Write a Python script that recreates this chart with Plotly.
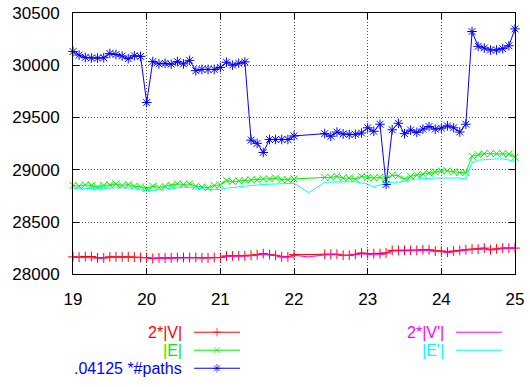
import plotly.graph_objects as go

# ---- data -------------------------------------------------------------
# sample positions shared by 2*|V|, |E| and the path count
x_main = [19.0, 19.083, 19.167, 19.25, 19.333, 19.417, 19.5, 19.583, 19.667, 19.75, 19.833, 19.917,
          20.0, 20.083, 20.167, 20.25, 20.333, 20.417, 20.5, 20.583, 20.667, 20.75, 20.833, 20.917,
          21.0, 21.083, 21.167, 21.25, 21.333, 21.417, 21.5, 21.583, 21.667, 21.75, 21.833, 21.917,
          22.0, 22.417, 22.5, 22.583, 22.667, 22.75, 22.833, 22.917,
          23.0, 23.083, 23.167, 23.25, 23.333, 23.417, 23.5, 23.583, 23.667, 23.75, 23.833, 23.917,
          24.0, 24.083, 24.167, 24.25, 24.333, 24.417, 24.5, 24.583, 24.667, 24.75, 24.833, 24.917,
          25.0]

two_v = [28167, 28164, 28170, 28170, 28157, 28157, 28167, 28167, 28167, 28167, 28164, 28161,
         28161, 28151, 28157, 28157, 28157, 28161, 28161, 28161, 28161, 28157, 28157, 28161,
         28161, 28176, 28176, 28176, 28176, 28182, 28188, 28198, 28188, 28182, 28167, 28167,
         28188, 28192, 28192, 28192, 28182, 28182, 28192, 28204,
         28198, 28198, 28198, 28204, 28229, 28229, 28229, 28229, 28229, 28235, 28235, 28223,
         28223, 28213, 28223, 28229, 28235, 28241, 28241, 28251, 28235, 28244, 28251, 28251,
         28251]

edges = [28850, 28843, 28856, 28850, 28834, 28850, 28856, 28865, 28850, 28859, 28843, 28837,
         28819, 28843, 28831, 28843, 28850, 28865, 28859, 28865, 28843, 28837, 28828, 28850,
         28856, 28899, 28887, 28893, 28899, 28905, 28905, 28912, 28912, 28921, 28905, 28905,
         28912, 28927, 28927, 28937, 28921, 28921, 28912, 28937,
         28927, 28921, 28927, 28912, 28949, 28943, 28912, 28937, 28949, 28958, 28968, 28980,
         28989, 28989, 28980, 28974, 28974, 29129, 29144, 29154, 29154, 29154, 29154, 29150,
         29120]

paths_scaled = [30131, 30097, 30075, 30069, 30069, 30072, 30113, 30103, 30088, 30063, 30091, 30085,
                29644, 30035, 30013, 30019, 30010, 30035, 30013, 30047, 29948, 29960, 29960, 29960,
                29979, 30029, 30001, 30019, 30032, 29284, 29253, 29166, 29290, 29290, 29290, 29290,
                29324, 29346, 29321, 29361, 29343, 29337, 29340, 29352,
                29402, 29368, 29436, 28859, 29383, 29445, 29346, 29380, 29358, 29389, 29414, 29389,
                29399, 29420, 29402, 29361, 29436, 30323, 30181, 30165, 30146, 30146, 30159, 30187,
                30348]

# sample positions of the primed quantities (one extra sample inside the gap)
x_prime = [19.0, 19.083, 19.167, 19.25, 19.333, 19.417, 19.5, 19.583, 19.667, 19.75, 19.833, 19.917,
           20.0, 20.083, 20.167, 20.25, 20.333, 20.417, 20.5, 20.583, 20.667, 20.75, 20.833, 20.917,
           21.0, 21.083, 21.167, 21.25, 21.333, 21.417, 21.5, 21.583, 21.667, 21.75, 21.833, 21.917,
           22.0, 22.2, 22.417, 22.5, 22.583, 22.667, 22.75, 22.833, 22.917,
           23.0, 23.083, 23.167, 23.25, 23.333, 23.417, 23.5, 23.583, 23.667, 23.75, 23.833, 23.917,
           24.0, 24.083, 24.167, 24.25, 24.333, 24.417, 24.5, 24.583, 24.667, 24.75, 24.833, 24.917,
           25.0]

two_v_prime = [28164, 28162, 28165, 28164, 28157, 28155, 28162, 28164, 28164, 28162, 28161, 28158,
               28157, 28148, 28152, 28154, 28154, 28157, 28158, 28158, 28157, 28154, 28153, 28157,
               28158, 28171, 28172, 28173, 28174, 28178, 28184, 28192, 28186, 28178, 28164, 28163,
               28182, 28167, 28186, 28187, 28188, 28178, 28179, 28187, 28196,
               28188, 28186, 28187, 28195, 28222, 28224, 28225, 28224, 28225, 28230, 28230, 28218,
               28217, 28208, 28217, 28224, 28230, 28236, 28237, 28245, 28232, 28240, 28246, 28247,
               28248]

edges_prime = [28825, 28822, 28819, 28819, 28819, 28822, 28828, 28828, 28828, 28825, 28825, 28809,
               28794, 28803, 28809, 28819, 28825, 28831, 28834, 28831, 28828, 28819, 28809, 28809,
               28812, 28825, 28828, 28837, 28843, 28850, 28856, 28859, 28862, 28865, 28868, 28871,
               28871, 28781, 28881, 28881, 28881, 28881, 28884, 28887, 28874,
               28865, 28834, 28856, 28874, 28881, 28881, 28890, 28905, 28912, 28918, 28918, 28921,
               28921, 28927, 28921, 28921, 28912, 29067, 29092, 29098, 29104, 29104, 29104, 29092,
               29082]

y_ticks = [28000, 28500, 29000, 29500, 30000, 30500]
x_ticks = [19, 20, 21, 22, 23, 24, 25]

# ---- styling ----------------------------------------------------------
FONT = "Liberation Sans, Arial, Helvetica, sans-serif"
RED, GREEN, BLUE, MAGENTA, CYAN = "#ff0000", "#00f000", "#0000ff", "#ff00ff", "#00ffff"

series = [
    dict(name="2*|V|", x=x_main, y=two_v, color=RED, symbol="cross-thin-open", size=7),
    dict(name="|E|", x=x_main, y=edges, color=GREEN, symbol="x-thin-open", size=7),
    dict(name=".04125 *#paths", x=x_main, y=paths_scaled, color=BLUE, symbol="asterisk-open", size=8),
    dict(name="2*|V'|", x=x_prime, y=two_v_prime, color=MAGENTA, symbol=None, size=0),
    dict(name="|E'|", x=x_prime, y=edges_prime, color=CYAN, symbol=None, size=0),
]

fig = go.Figure()

for s in series:
    mode = "lines+markers" if s["symbol"] else "lines"
    marker = dict(symbol=s["symbol"], size=s["size"], color=s["color"],
                  line=dict(color=s["color"], width=1)) if s["symbol"] else None
    fig.add_trace(go.Scatter(x=s["x"], y=s["y"], mode=mode, name=s["name"],
                             line=dict(color=s["color"], width=1), marker=marker,
                             cliponaxis=False, showlegend=False))

# ---- key below the plot, drawn on a pixel-scaled helper axis pair -----
# (row y, text right edge, sample start, sample end) in pixels from top-left
key_layout = [
    (341, 183, 194, 240),
    (359.5, 183, 194, 240),
    (378, 183, 194, 240),
    (341, 445, 456, 502),
    (359.5, 445, 456, 502),
]
for s, (ky, tx, x0, x1) in zip(series, key_layout):
    xm = (x0 + x1) / 2
    if s["symbol"]:
        fig.add_trace(go.Scatter(x=[x0, xm, x1], y=[ky, ky, ky], xaxis="x2", yaxis="y2",
                                 mode="lines+markers", showlegend=False, hoverinfo="skip",
                                 line=dict(color=s["color"], width=1),
                                 marker=dict(symbol=s["symbol"], size=[0, s["size"] - 1, 0],
                                             color=s["color"],
                                             line=dict(color=s["color"], width=1))))
    else:
        fig.add_trace(go.Scatter(x=[x0, x1], y=[ky, ky], xaxis="x2", yaxis="y2",
                                 mode="lines", showlegend=False, hoverinfo="skip",
                                 line=dict(color=s["color"], width=1)))
    fig.add_annotation(x=tx, y=ky, xref="x2", yref="y2", text=s["name"], showarrow=False,
                       xanchor="right", yanchor="middle", borderpad=0,
                       font=dict(family=FONT, size=16, color=s["color"]))

W, H = 530, 387
ML, MR, MT = 73, 15, 13
plot_bottom = 281.5
main_bottom = (H - plot_bottom) / (H - MT)

axis_common = dict(
    showgrid=True, gridcolor="#505050", gridwidth=1, griddash="1px,2px",
    showline=True, linecolor="black", linewidth=1, mirror="ticks",
    ticks="inside", ticklen=6, tickcolor="black", tickwidth=1,
    zeroline=False, tickfont=dict(family=FONT, size=17, color="black"),
    tickformat="d",
)

fig.update_layout(
    width=W, height=H, autosize=False,
    margin=dict(l=ML, r=MR, t=MT, b=0, pad=0),
    paper_bgcolor="white", plot_bgcolor="white",
    showlegend=False,
    xaxis=dict(domain=[0, 1], anchor="y", range=[19, 25], tickvals=x_ticks,
               ticklabelstandoff=9, **axis_common),
    yaxis=dict(domain=[main_bottom, 1], anchor="x", range=[28000, 30500], tickvals=y_ticks,
               ticklabelstandoff=9, **axis_common),
    xaxis2=dict(domain=[0, 1], anchor="y2", range=[ML, W - MR], visible=False, fixedrange=True),
    yaxis2=dict(domain=[0, main_bottom], anchor="x2", range=[H, plot_bottom], visible=False,
                fixedrange=True),
)

fig.write_html("out.html")
